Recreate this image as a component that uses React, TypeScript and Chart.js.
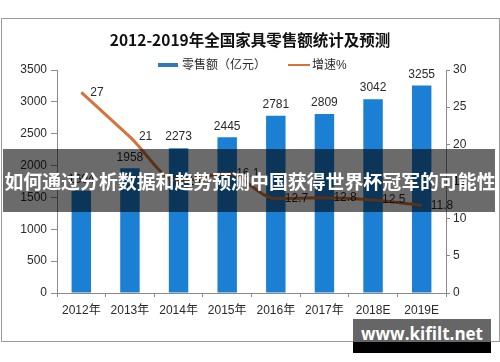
import React, { useEffect, useRef } from "react";
import { Chart, registerables } from "chart.js";

Chart.register(...registerables);

const categories = ["2012年", "2013年", "2014年", "2015年", "2016年", "2017年", "2018E", "2019E"];
const retailSales = [1604, 1958, 2273, 2445, 2781, 2809, 3042, 3255];
const growthRate = [27, 21, 15.0, 16.1, 12.7, 12.8, 12.5, 11.8];
const leftTicks = [0, 500, 1000, 1500, 2000, 2500, 3000, 3500];
const rightTicks = [0, 5, 10, 15, 20, 25, 30];

const titleText = "2012-2019年全国家具零售额统计及预测";
const legendBar = "零售额（亿元）";
const legendLine = "增速%";
const bannerText = "如何通过分析数据和趋势预测中国获得世界杯冠军的可能性";
const watermarkText = "www.kifilt.net";

const FONT = '"Liberation Sans", "Noto Sans CJK SC", sans-serif';
const BAR_COLOR = "#1b7fd3";
const LINE_COLOR = "#d4743a";
const AXIS_COLOR = "#8a8a8a";
const TEXT_COLOR = "#2a2a2a";

const labelPlugin = {
  id: "valueLabels",
  afterDatasetsDraw(chart: any) {
    const ctx = chart.ctx;
    ctx.save();
    ctx.font = `12px ${FONT}`;
    ctx.fillStyle = TEXT_COLOR;
    const barMeta = chart.getDatasetMeta(0);
    barMeta.data.forEach((el: any, i: number) => {
      ctx.textAlign = "center";
      ctx.textBaseline = "bottom";
      ctx.fillText(String(retailSales[i]), el.x, el.y - 5);
    });
    const lineMeta = chart.getDatasetMeta(1);
    lineMeta.data.forEach((el: any, i: number) => {
      ctx.textAlign = "left";
      ctx.textBaseline = "middle";
      ctx.fillText(String(growthRate[i]), el.x + 9, el.y);
    });
    ctx.restore();
  },
};

export default function App() {
  const canvasRef = useRef<HTMLCanvasElement | null>(null);

  useEffect(() => {
    if (!canvasRef.current) return;
    const chart = new Chart(canvasRef.current, {
      type: "bar",
      data: {
        labels: categories,
        datasets: [
          {
            type: "bar",
            label: legendBar,
            data: retailSales,
            backgroundColor: BAR_COLOR,
            yAxisID: "y",
            categoryPercentage: 1,
            barPercentage: 0.4,
            order: 2,
          },
          {
            type: "line",
            label: legendLine,
            data: growthRate,
            borderColor: LINE_COLOR,
            borderWidth: 3,
            pointRadius: 0,
            tension: 0.4,
            cubicInterpolationMode: "monotone",
            yAxisID: "y1",
            order: 1,
          },
        ],
      } as any,
      options: {
        responsive: false,
        animation: false,
        devicePixelRatio: 1,
        layout: { padding: { top: 70, left: 0, right: 0, bottom: 0 } },
        plugins: {
          legend: { display: false },
          title: { display: false },
          tooltip: { enabled: false },
        },
        scales: {
          x: {
            grid: {
              display: true,
              drawOnChartArea: false,
              drawTicks: true,
              tickLength: 4,
              color: AXIS_COLOR,
              offset: true,
            },
            border: { display: true, color: AXIS_COLOR },
            ticks: { color: TEXT_COLOR, font: { size: 12, family: FONT }, padding: 6, maxRotation: 0 },
            afterFit: (s: any) => {
              s.height = 69;
            },
          },
          y: {
            position: "left",
            min: 0,
            max: 3500,
            afterBuildTicks: (s: any) => {
              s.ticks = leftTicks.map((v) => ({ value: v }));
            },
            grid: { display: true, drawOnChartArea: false, tickLength: 6, color: AXIS_COLOR },
            border: { display: true, color: AXIS_COLOR },
            ticks: {
              color: TEXT_COLOR,
              font: { size: 12, family: FONT },
              padding: 4,
              callback: (v: any) => String(v),
            },
            afterFit: (s: any) => {
              s.width = 57;
            },
          },
          y1: {
            position: "right",
            min: 0,
            max: 30,
            afterBuildTicks: (s: any) => {
              s.ticks = rightTicks.map((v) => ({ value: v }));
            },
            grid: { display: true, drawOnChartArea: false, tickLength: 4, color: AXIS_COLOR },
            border: { display: true, color: AXIS_COLOR },
            ticks: {
              color: TEXT_COLOR,
              font: { size: 12, family: FONT },
              padding: 3,
              callback: (v: any) => String(v),
            },
            afterFit: (s: any) => {
              s.width = 54;
            },
          },
        },
      } as any,
      plugins: [labelPlugin],
    });
    return () => chart.destroy();
  }, []);

  return (
    <div
      style={{
        position: "fixed",
        left: 0,
        top: 0,
        width: 500,
        height: 362,
        background: "#ffffff",
        overflow: "hidden",
        fontFamily: FONT,
      }}
    >
      <div
        style={{
          position: "absolute",
          left: 1,
          top: 18,
          width: 497,
          height: 322,
          border: "1px solid #9a9a9a",
        }}
      />
      <canvas ref={canvasRef} width={500} height={362} style={{ position: "absolute", left: 0, top: 0, width: 500, height: 362 }} />
      <div
        style={{
          position: "absolute",
          left: 0,
          top: 29,
          width: 500,
          textAlign: "center",
          fontSize: 15.5,
          lineHeight: "20px",
          fontWeight: "bold",
          color: "#111",
          fontFamily: '"Noto Sans CJK SC", sans-serif',
        }}
      >
        {titleText}
      </div>
      <div style={{ position: "absolute", left: 158, top: 63, width: 20, height: 4, background: "#2f78ba" }} />
      <div
        style={{ position: "absolute", left: 182, top: 57, fontSize: 12, lineHeight: "16px", color: TEXT_COLOR, whiteSpace: "nowrap" }}
      >
        {legendBar}
      </div>
      <div style={{ position: "absolute", left: 288, top: 64, width: 22, height: 2, background: LINE_COLOR }} />
      <div
        style={{ position: "absolute", left: 312, top: 57, fontSize: 12, lineHeight: "16px", color: TEXT_COLOR, whiteSpace: "nowrap" }}
      >
        {legendLine}
      </div>
      <div
        style={{
          position: "absolute",
          left: 3,
          top: 149,
          width: 492,
          height: 63,
          background: "rgba(0,0,0,0.58)",
        }}
      />
      <div
        style={{
          position: "absolute",
          left: 0,
          top: 168,
          width: 500,
          textAlign: "center",
          fontSize: 18.9,
          lineHeight: "26px",
          fontWeight: "bold",
          color: "#ffffff",
          whiteSpace: "nowrap",
          fontFamily: '"Noto Sans CJK SC", sans-serif',
        }}
      >
        {bannerText}
      </div>
      <div style={{ position: "absolute", left: 353, top: 319, width: 138, height: 23, background: "#666666" }} />
      <div style={{ position: "absolute", left: 353, top: 342, width: 138, height: 11, background: "#000000" }} />
      <div
        style={{
          position: "absolute",
          left: 353,
          top: 323,
          width: 138,
          textAlign: "center",
          fontSize: 17,
          lineHeight: "22px",
          fontWeight: "bold",
          color: "#ffffff",
          fontFamily: '"Open Sans", "Noto Sans", sans-serif',
        }}
      >
        {watermarkText}
      </div>
    </div>
  );
}
